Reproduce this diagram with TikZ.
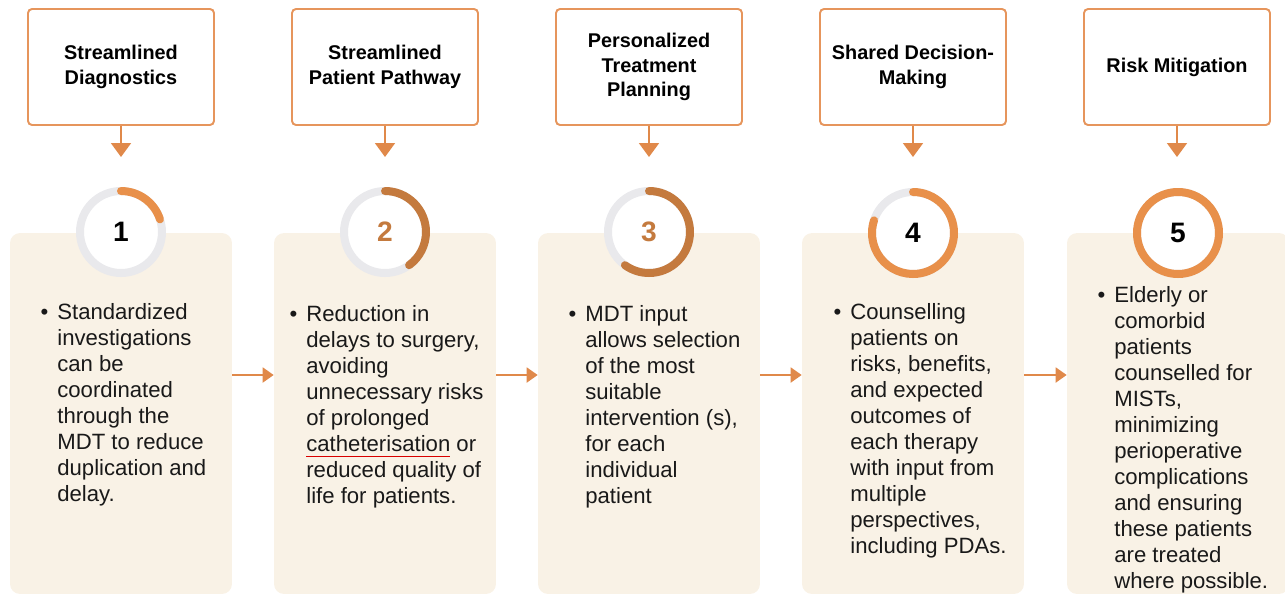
\documentclass[tikz,border=0pt]{standalone}
\usepackage{fontspec}
\setmainfont{Liberation Sans}
\usetikzlibrary{arrows.meta}

\definecolor{boxline}{HTML}{E6955C}
\definecolor{flowarrow}{HTML}{E0894A}
\definecolor{panelfill}{HTML}{F9F2E6}
\definecolor{tracktone}{HTML}{E9E9EC}
\definecolor{ringlight}{HTML}{E8904A}
\definecolor{ringdark}{HTML}{C47A3E}

% red spell-check mark under a word
\newsavebox\spellbox
\newcommand\spellmark[1]{\sbox\spellbox{#1}\leavevmode\rlap{\textcolor{red!85!black}{\rule[-0.45ex]{\wd\spellbox}{0.5pt}}}\usebox\spellbox}

\begin{document}
\begin{tikzpicture}[x=0.02cm, y=-0.02cm,
  title/.style={rectangle, draw=boxline, line width=1.1pt, rounded corners=0.08cm, fill=white,
    minimum width=3.72cm, minimum height=2.32cm, align=center,
    font=\fontsize{11.3}{14}\selectfont\bfseries},
  panel/.style={rectangle, fill=panelfill, rounded corners=0.2cm, minimum width=4.44cm, minimum height=7.22cm},
  ring/.style={circle, draw=tracktone, line width=0.16cm, fill=white, minimum size=1.64cm,
    inner sep=0pt, outer sep=0pt, font=\fontsize{16}{19}\selectfont\bfseries},
  progress/.style={line width=0.16cm, line cap=round},
  body/.style={anchor=north west, inner sep=0pt, align=left,
    font=\fontsize{12.6}{14.8}\selectfont, text=black!90},
  down/.style={flowarrow, line width=1.1pt, -{Triangle[width=0.4cm,length=0.28cm]}},
  across/.style={flowarrow, line width=1.1pt, -{Triangle[width=0.3cm,length=0.22cm]}}]
  \useasboundingbox (0,0) rectangle (1285,596);

  % panels
  \node (p1) [panel] at (121,413.5) {};
  \node (p2) [panel] at (385,413.5) {};
  \node (p3) [panel] at (649,413.5) {};
  \node (p4) [panel] at (913,413.5) {};
  \node (p5) [panel] at (1178,413.5) {};

  \coordinate (lane) at (0,375);
  \draw[across] (p1.east |- lane) -- (p2.west |- lane);
  \draw[across] (p2.east |- lane) -- (p3.west |- lane);
  \draw[across] (p3.east |- lane) -- (p4.west |- lane);
  \draw[across] (p4.east |- lane) -- (p5.west |- lane);

  % header boxes
  \node (h1) [title] at (121,67) {Streamlined\\Diagnostics};
  \node (h2) [title] at (385,67) {Streamlined\\Patient Pathway};
  \node (h3) [title] at (649,67) {Personalized\\Treatment\\Planning};
  \node (h4) [title] at (913,67) {Shared Decision-\\Making};
  \node (h5) [title] at (1177,67) {Risk Mitigation};

  \coordinate (d1) at (121,157);
  \coordinate (d2) at (385,157);
  \coordinate (d3) at (649,157);
  \coordinate (d4) at (913,157);
  \coordinate (d5) at (1177,157);
  \draw[down] (h1) -- (d1);
  \draw[down] (h2) -- (d2);
  \draw[down] (h3) -- (d3);
  \draw[down] (h4) -- (d4);
  \draw[down] (h5) -- (d5);

  % step rings, filled in fifths
  \node (c1) [ring] at (121,232) {1};
  \node (c2) [ring, text=ringdark] at (385,232) {2};
  \node (c3) [ring, text=ringdark] at (649,232) {3};
  \node (c4) [ring] at (913,233) {4};
  \node (c5) [ring] at (1178,233) {5};
  \draw[progress, ringlight] (c1.north) arc[start angle=90, end angle=18, radius=0.82cm];
  \draw[progress, ringdark] (c2.north) arc[start angle=90, end angle=-54, radius=0.82cm];
  \draw[progress, ringdark] (c3.north) arc[start angle=90, end angle=-126, radius=0.82cm];
  \draw[progress, ringlight] (c4.north) arc[start angle=90, end angle=-198, radius=0.82cm];
  \draw[progress, ringlight] (c5.north) arc[start angle=90, end angle=-270, radius=0.82cm];

  % bullet texts
  \node (t1) [body] at (57,303) {\llap{\textbullet\hspace{0.18cm}}Standardized\\investigations\\can be\\coordinated\\through the\\MDT to reduce\\duplication and\\delay.};
  \node (t2) [body] at (306,305) {\llap{\textbullet\hspace{0.18cm}}Reduction in\\delays to surgery,\\avoiding\\unnecessary risks\\of prolonged\\\spellmark{catheterisation} or\\reduced quality of\\life for patients.};
  \node (t3) [body] at (585,305) {\llap{\textbullet\hspace{0.18cm}}MDT input\\allows selection\\of the most\\suitable\\intervention (s),\\for each\\individual\\patient};
  \node (t4) [body] at (850,303) {\llap{\textbullet\hspace{0.18cm}}Counselling\\patients on\\risks, benefits,\\and expected\\outcomes of\\each therapy\\with input from\\multiple\\perspectives,\\including PDAs.};
  \node (t5) [body] at (1114,286) {\llap{\textbullet\hspace{0.18cm}}Elderly or\\comorbid\\patients\\counselled for\\MISTs,\\minimizing\\perioperative\\complications\\and ensuring\\these patients\\are treated\\where possible.};
\end{tikzpicture}
\end{document}
